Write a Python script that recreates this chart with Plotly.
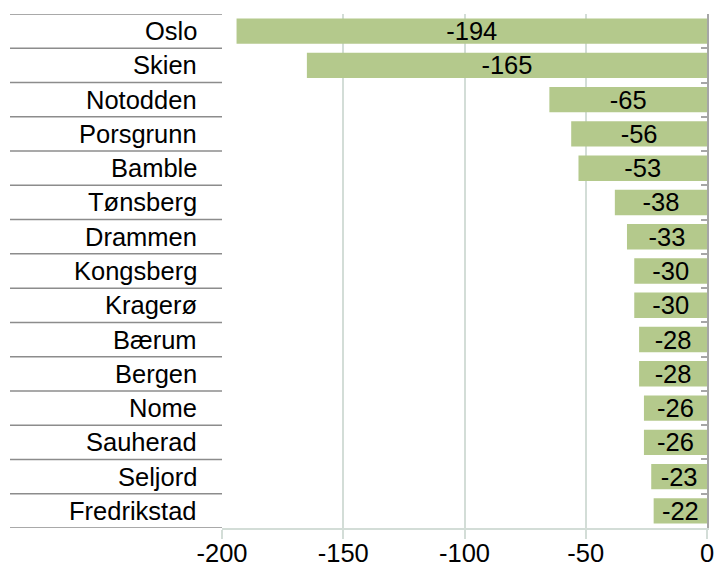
import plotly.graph_objects as go

categories = ["Oslo", "Skien", "Notodden", "Porsgrunn", "Bamble", "Tønsberg", "Drammen",
              "Kongsberg", "Kragerø", "Bærum", "Bergen", "Nome", "Sauherad", "Seljord", "Fredrikstad"]
values = [-194, -165, -65, -56, -53, -38, -33, -30, -30, -28, -28, -26, -26, -23, -22]
x_ticks = [-200, -150, -100, -50, 0]

W, H = 715, 572
L, R, T, B = 222, 8, 14, 44
plot_w = W - L - R

FONT = "Liberation Sans, Arial, sans-serif"
FS = 25.5
BAR = "#b4c98c"
GRID = "#d3ddd7"

fig = go.Figure()
fig.add_trace(go.Bar(
    x=values, y=categories, orientation="h",
    marker=dict(color=BAR, line=dict(width=0)),
    width=0.74,
    text=[str(v) for v in values],
    textposition="inside", insidetextanchor="middle",
    textfont=dict(family=FONT, size=FS, color="black"),
    constraintext="none",
    hoverinfo="skip",
))

shapes = []
n = len(categories)
for i in range(n + 1):
    shapes.append(dict(type="line", xref="paper", yref="y",
                       x0=(10 - L) / plot_w, x1=0, y0=i - 0.5, y1=i - 0.5,
                       line=dict(color="#8c8c8c", width=1.5), layer="above"))

annotations = []
for c in categories:
    annotations.append(dict(xref="paper", yref="y", x=(199 - L) / plot_w, y=c,
                            text=c, showarrow=False, xanchor="right", yanchor="middle",
                            font=dict(family=FONT, size=FS, color="black")))

fig.update_layout(
    width=W, height=H,
    margin=dict(l=L, r=R, t=T, b=B, autoexpand=False),
    paper_bgcolor="white", plot_bgcolor="white",
    showlegend=False,
    shapes=shapes, annotations=annotations,
    xaxis=dict(range=[-200, 0], tickvals=x_ticks, ticktext=[str(v) for v in x_ticks],
               showgrid=True, gridcolor=GRID, gridwidth=1.5,
               ticks="outside", ticklen=9, tickcolor=GRID, tickwidth=1.5,
               showline=True, linecolor=GRID, linewidth=1.5,
               zeroline=False, automargin=False,
               ticklabeloverflow="allow", ticklabelstandoff=-7,
               tickfont=dict(family=FONT, size=FS, color="black")),
    yaxis=dict(type="category", categoryorder="array", categoryarray=categories,
               range=[n - 0.5, -0.5], side="right",
               showticklabels=False, showgrid=False, zeroline=False,
               showline=True, linecolor="#a6a6a6", linewidth=1.5,
               ticks="inside", ticklen=6, tickcolor="#a6a6a6", tickwidth=1.5,
               tickson="boundaries", automargin=False),
)

fig.write_html("out.html",
               config={"displayModeBar": False},
               post_script="document.body.style.margin='0';document.body.style.overflow='hidden';")
